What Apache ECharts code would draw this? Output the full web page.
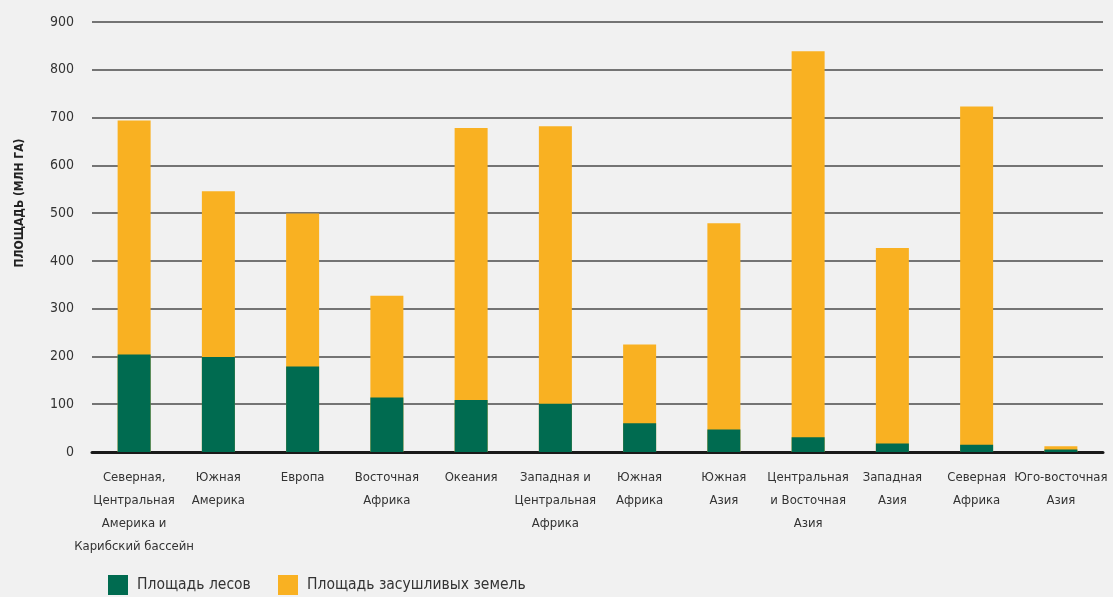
<!DOCTYPE html>
<html><head><meta charset="utf-8">
<script src="https://cdn.jsdelivr.net/npm/echarts@6/dist/echarts.min.js"></script>
<style>html,body{margin:0;padding:0;background:#f1f1f1;}#c{width:1113px;height:597px;}</style>
</head><body><div id="c"></div>
<script>
const categories = [
  "Северная,\nЦентральная\nАмерика и\nКарибский бассейн",
  "Южная\nАмерика",
  "Европа",
  "Восточная\nАфрика",
  "Океания",
  "Западная и\nЦентральная\nАфрика",
  "Южная\nАфрика",
  "Южная\nАзия",
  "Центральная\nи Восточная\nАзия",
  "Западная\nАзия",
  "Северная\nАфрика",
  "Юго-восточная\nАзия"
];
const forestArea = [204, 199, 179, 114, 109, 101, 60, 47, 31, 18, 15, 5];
const drylandArea = [694, 546, 499, 327, 678, 682, 225, 479, 839, 427, 723, 12];
const seriesNames = ["Площадь лесов", "Площадь засушливых земель"];
const yTicks = [0, 100, 200, 300, 400, 500, 600, 700, 800, 900];
const yAxisTitle = "ПЛОЩАДЬ (МЛН ГА)";

const font = '"Liberation Sans Narrow", "DejaVu Sans Condensed", "Roboto", sans-serif';
const chart = echarts.init(document.getElementById('c'));
const legendCommon = {
  top: 570, itemWidth: 20, itemHeight: 20, icon: 'rect', itemGap: 0,
  textStyle: {fontFamily: font, fontSize: 15.5, color: '#333', padding: [0, 0, 0, 4]}
};
chart.setOption({
  backgroundColor: '#f1f1f1',
  animation: false,
  grid: {left: 92, right: 10, top: 22, bottom: 145, containLabel: false},
  legend: [
    Object.assign({left: 103, data: [seriesNames[0]]}, legendCommon),
    Object.assign({left: 273, data: [seriesNames[1]]}, legendCommon)
  ],
  graphic: [{
    type: 'text', x: 20, y: 203, rotation: Math.PI / 2,
    style: {text: yAxisTitle, fontFamily: font, fontWeight: 'bold', fontSize: 12,
            fill: '#222', align: 'center', verticalAlign: 'middle'}
  }],
  xAxis: {
    type: 'category', data: categories,
    axisLine: {lineStyle: {color: '#1a1a1a', width: 3}},
    axisTick: {show: false},
    axisLabel: {interval: 0, margin: 14, fontFamily: font, fontSize: 13, color: '#333', lineHeight: 23}
  },
  yAxis: {
    type: 'value', min: 0, max: 900, interval: 100,
    axisLine: {show: false}, axisTick: {show: false},
    axisLabel: {margin: 18, fontFamily: font, fontSize: 14, color: '#333',
      formatter: v => yTicks.includes(v) ? String(v) : ''},
    splitLine: {lineStyle: {color: '#4a4a4a', width: 1.5}}
  },
  series: [
    {name: seriesNames[1], type: 'bar', data: drylandArea, barWidth: 33, barGap: '-100%', z: 2,
     itemStyle: {color: '#F9B122'}},
    {name: seriesNames[0], type: 'bar', data: forestArea, barWidth: 33, barGap: '-100%', z: 3,
     itemStyle: {color: '#006B50'}}
  ]
});
</script></body></html>
